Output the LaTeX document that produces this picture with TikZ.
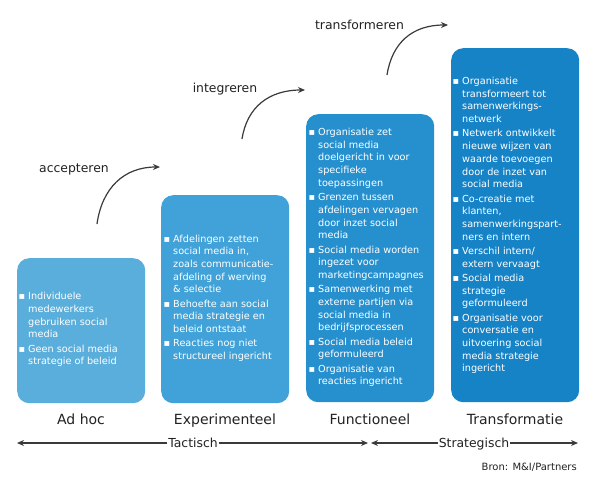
\documentclass[tikz,border=0pt]{standalone}
\usepackage{fontspec}
\setmainfont{DejaVu Sans}
\usetikzlibrary{arrows.meta}
\definecolor{cA}{HTML}{5AAEDC}
\definecolor{cB}{HTML}{40A2D8}
\definecolor{cC}{HTML}{2690CF}
\definecolor{cD}{HTML}{1783C7}
\definecolor{ink}{HTML}{222222}
\definecolor{arr}{HTML}{3A3A3A}
\newcommand{\bl}{\llap{▪\hspace{3pt}}}
\tikzset{
  stagebox/.style={anchor=north west, inner sep=0pt, rounded corners=12pt, minimum width=128pt},
  btext/.style={anchor=north west, inner sep=0pt, align=left, text=white, font=\fontsize{9.7}{12.7}\selectfont},
  stagelab/.style={anchor=base, inner sep=0pt, text=ink, font=\fontsize{14}{16}\selectfont},
  steplab/.style={anchor=base, inner sep=0pt, text=ink, font=\fontsize{12.4}{14}\selectfont},
  carrow/.style={draw=arr, line width=1.2pt, -{Stealth[length=7pt,width=6pt]}},
  axlab/.style={inner sep=1pt, text=ink, text height=9pt, text depth=0pt, font=\fontsize{12.4}{14}\selectfont},
  axarrow/.style={draw=arr, line width=1.2pt, -{Stealth[length=7pt,width=6pt]}}
}
\begin{document}
\begin{tikzpicture}[x=1pt,y=-1pt]
\useasboundingbox[fill=white] (0,0) rectangle (595,483);

% boxes
\node[stagebox, fill=cA, minimum height=145pt] (b1) at (17,258) {};
\node[stagebox, fill=cB, minimum height=208pt] (b2) at (161,195) {};
\node[stagebox, fill=cC, minimum height=288pt] (b3) at (306,114) {};
\node[stagebox, fill=cD, minimum height=354pt] (b4) at (451,48) {};

% box texts
\node[btext] (t1) at (28,290.8) {\strut\bl Individuele\\medewerkers\\gebruiken social\\media\\[1.6pt]
\bl Geen social media\\strategie of beleid};

\node[btext] (t2) at (173,233.1) {\strut\bl Afdelingen zetten\\social media in,\\zoals communicatie-\\afdeling of werving\\\& selectie\\[1.6pt]
\bl Behoefte aan social\\media strategie en\\beleid ontstaat\\[1.6pt]
\bl Reacties nog niet\\structureel ingericht};

\node[btext] (t3) at (318,126.5) {\strut\bl Organisatie zet\\social media\\doelgericht in voor\\specifieke\\toepassingen\\[1.6pt]
\bl Grenzen tussen\\afdelingen vervagen\\door inzet social\\media\\[1.6pt]
\bl Social media worden\\ingezet voor\\marketingcampagnes\\[1.6pt]
\bl Samenwerking met\\externe partijen via\\social media in\\bedrijfsprocessen\\[1.6pt]
\bl Social media beleid\\geformuleerd\\[1.6pt]
\bl Organisatie van\\reacties ingericht};

\node[btext] (t4) at (462,75.5) {\strut\bl Organisatie\\transformeert tot\\samenwerkings-\\netwerk\\[1.6pt]
\bl Netwerk ontwikkelt\\nieuwe wijzen van\\waarde toevoegen\\door de inzet van\\social media\\[1.6pt]
\bl Co-creatie met\\klanten,\\samenwerkingspart-\\ners en intern\\[1.6pt]
\bl Verschil intern/\\extern vervaagt\\[1.6pt]
\bl Social media\\strategie\\geformuleerd\\[1.6pt]
\bl Organisatie voor\\conversatie en\\uitvoering social\\media strategie\\ingericht};

% stage labels
\node[stagelab] (l1) at (81,424) {Ad hoc};
\node[stagelab] (l2) at (225,424) {Experimenteel};
\node[stagelab] (l3) at (370,424) {Functioneel};
\node[stagelab] (l4) at (515,424) {Transformatie};

% step labels and curved arrows
\node[steplab] (s1) at (74,172.7) {accepteren};
\node[steplab] (s2) at (225,92) {integreren};
\node[steplab] (s3) at (359.5,29) {transformeren};

\coordinate (a1s) at (97,224);  \coordinate (a1e) at (160,167);
\coordinate (a2s) at (242,139); \coordinate (a2e) at (305,90);
\coordinate (a3s) at (387,75);  \coordinate (a3e) at (448,25);
\draw[carrow] (a1s) .. controls +(5,-36) and +(-36,0) .. (a1e);
\draw[carrow] (a2s) .. controls +(5,-32) and +(-36,0) .. (a2e);
\draw[carrow] (a3s) .. controls +(5,-32) and +(-36,0) .. (a3e);

% axis
\node[axlab] (tac) at (193,443) {Tactisch};
\node[axlab] (str) at (474,443) {Strategisch};
\coordinate (tL) at (17,443);  \coordinate (tR) at (368,443);
\coordinate (sL) at (371,443); \coordinate (sR) at (578,443);
\draw[axarrow] (tac.west) -- (tL);
\draw[axarrow] (tac.east) -- (tR);
\draw[axarrow] (str.west) -- (sL);
\draw[axarrow] (str.east) -- (sR);

\node[anchor=base east, inner sep=0pt, text=ink, font=\fontsize{10}{12}\selectfont] (bron) at (577,470) {Bron: M\&I/Partners};
\end{tikzpicture}
\end{document}
